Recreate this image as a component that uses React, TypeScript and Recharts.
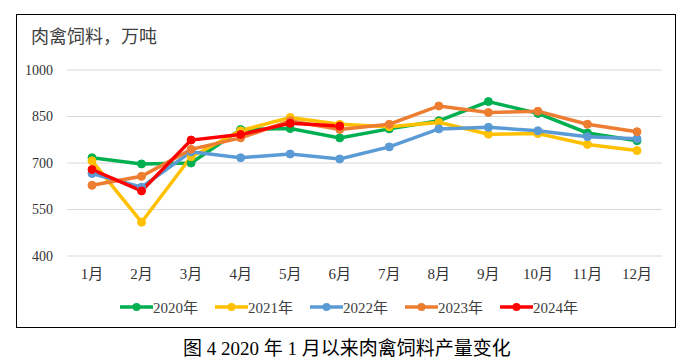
import React from "react";
import { LineChart, Line, XAxis, YAxis, CartesianGrid, Legend } from "recharts";

const months = ["1月", "2月", "3月", "4月", "5月", "6月", "7月", "8月", "9月", "10月", "11月", "12月"];
const y2020 = [717, 697, 700, 808, 811, 781, 810, 836, 898, 860, 797, 772];
const y2021 = [707, 509, 720, 804, 847, 825, 817, 831, 793, 795, 760, 740];
const y2022 = [666, 622, 736, 717, 729, 713, 752, 810, 815, 804, 785, 778];
const y2023 = [628, 657, 744, 781, 836, 808, 825, 884, 863, 867, 825, 801];
const y2024 = [679, 610, 774, 792, 828, 819];
const yTicks = [400, 550, 700, 850, 1000];

const series = [
  { key: "2020年", color: "#00B050", values: y2020 },
  { key: "2021年", color: "#FFC000", values: y2021 },
  { key: "2022年", color: "#5B9BD5", values: y2022 },
  { key: "2023年", color: "#ED7D31", values: y2023 },
  { key: "2024年", color: "#FF0000", values: y2024 },
];

const data = months.map((m, i) => {
  const row: Record<string, string | number | null> = { month: m };
  series.forEach((s) => {
    row[s.key] = i < s.values.length ? s.values[i] : null;
  });
  return row;
});

const font = '"Liberation Serif", "Times New Roman", "Noto Sans CJK SC", serif';

function LegendRow() {
  return (
    <div style={{ display: "flex", fontFamily: font, fontSize: 15, color: "#404040" }}>
      {series.map((s) => (
        <div key={s.key} style={{ display: "flex", alignItems: "center", width: 95 }}>
          <svg width={33} height={12}>
            <line x1={0} y1={6} x2={33} y2={6} stroke={s.color} strokeWidth={3.5} />
            <circle cx={16.5} cy={6} r={4} fill={s.color} />
          </svg>
          <span>{s.key}</span>
        </div>
      ))}
    </div>
  );
}

export default function App() {
  return (
    <div style={{ position: "absolute", left: 0, top: 0, width: 690, height: 360, background: "#fff" }}>
      <div
        style={{
          position: "absolute",
          left: 16,
          top: 14,
          width: 658,
          height: 312,
          border: "1.5px solid #000",
        }}
      />
      <div
        style={{
          position: "absolute",
          left: 31,
          top: 22,
          fontFamily: font,
          fontSize: 18,
          color: "#404040",
        }}
      >
        肉禽饲料，万吨
      </div>
      <div style={{ position: "absolute", left: 0, top: 0 }}>
        <LineChart
          width={690}
          height={330}
          data={data}
          margin={{ top: 70, right: 28, left: 7, bottom: 44 }}
        >
          <CartesianGrid vertical={false} stroke="#D9D9D9" strokeWidth={1.2} />
          <XAxis
            dataKey="month"
            axisLine={false}
            tickLine={false}
            height={30}
            tickMargin={6}
            padding={{ left: 25, right: 25 }}
            tick={{ fill: "#333", fontSize: 15, fontFamily: font }}
          />
          <YAxis
            domain={[400, 1000]}
            ticks={yTicks}
            width={60}
            axisLine={false}
            tickLine={false}
            tickMargin={8}
            tick={{ fill: "#333", fontSize: 14, fontFamily: font }}
          />
          <Legend
            verticalAlign="middle"
            layout="horizontal"
            wrapperStyle={{ top: 296, left: 120, width: 500 }}
            content={() => <LegendRow />}
          />
          {series.map((s) => (
            <Line
              key={s.key}
              dataKey={s.key}
              stroke={s.color}
              strokeWidth={3.5}
              dot={{ r: 4, fill: s.color, stroke: s.color, strokeWidth: 1 }}
              activeDot={false}
              isAnimationActive={false}
              connectNulls={false}
            />
          ))}
        </LineChart>
      </div>
      <div
        style={{
          position: "absolute",
          left: 0,
          width: 694,
          top: 333,
          textAlign: "center",
          fontFamily: font,
          fontSize: 19,
          color: "#000",
        }}
      >
        图 4 2020 年 1 月以来肉禽饲料产量变化
      </div>
    </div>
  );
}
